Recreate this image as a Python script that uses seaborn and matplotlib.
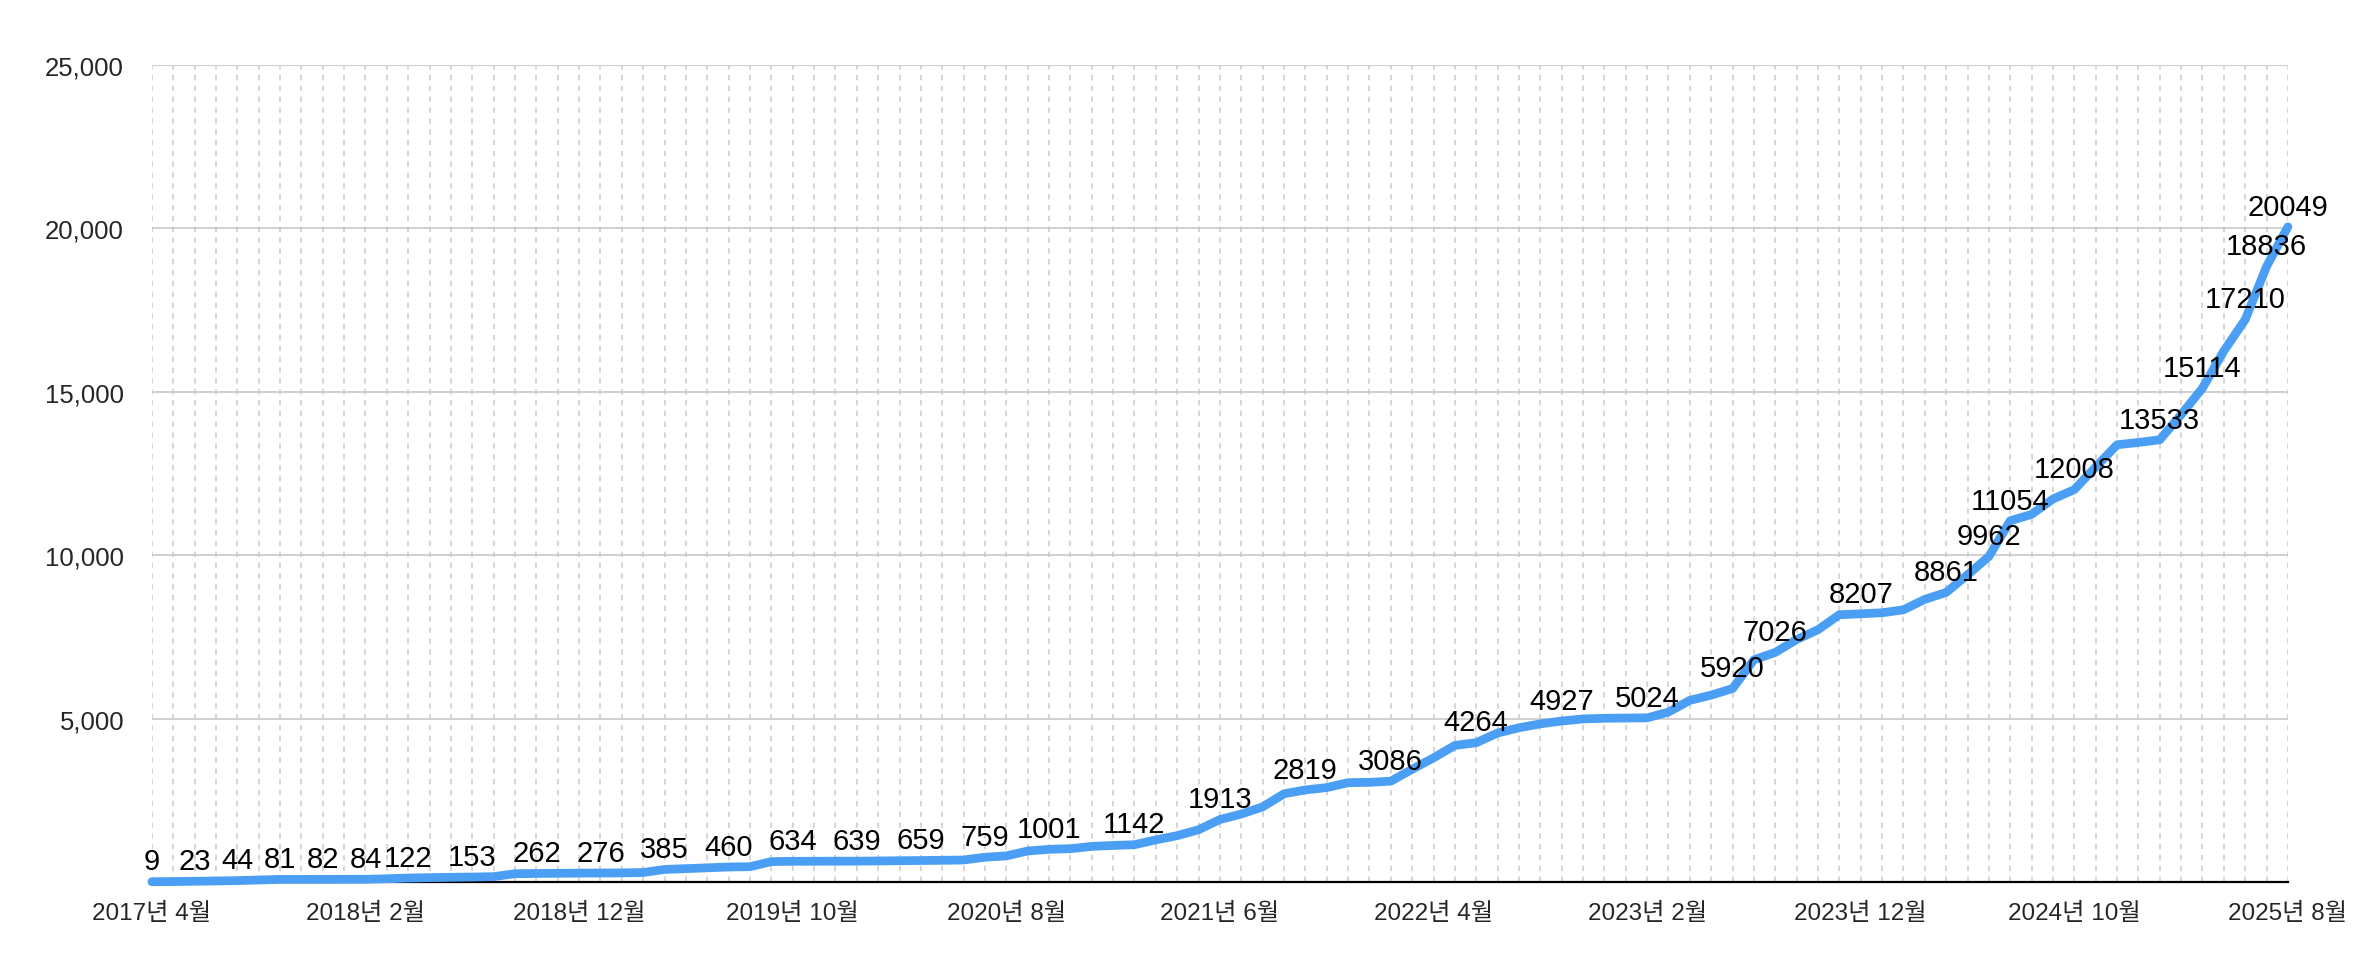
import matplotlib
matplotlib.use("Agg")
import matplotlib.pyplot as plt
import pandas as pd
import seaborn as sns


# monthly totals, 2017-04 .. 2025-08 (101 months)
VALUES = [
    9, 15, 23, 33, 44, 62, 81, 81, 82, 83,
    84, 100, 122, 135, 145, 153, 165, 255, 262, 268,
    272, 276, 280, 292, 385, 410, 435, 460, 470, 625,
    634, 636, 638, 639, 645, 652, 659, 665, 675, 759,
    800, 950, 1001, 1020, 1090, 1120, 1142, 1290, 1420, 1600,
    1913, 2080, 2300, 2700, 2819, 2890, 3040, 3050, 3086, 3450,
    3800, 4180, 4264, 4560, 4720, 4840, 4927, 4990, 5010, 5018,
    5024, 5200, 5560, 5720, 5920, 6800, 7026, 7420, 7720, 8180,
    8207, 8240, 8330, 8650, 8861, 9400, 9962, 11054, 11250, 11720,
    12008, 12700, 13380, 13450, 13533, 14300, 15114, 16250, 17210, 18836,
    20049,
]
MONTHS = list(range(len(VALUES)))

# months that carry a value label
LABELED_MONTHS = [
    0, 2, 4, 6, 8, 10, 12, 15, 18, 21, 24, 27, 30, 33, 36, 39, 42,
    46, 50, 54, 58, 62, 66, 70, 74, 76, 80, 84, 86, 87, 90, 94, 96, 98, 99, 100,
]

TICK_LABELS = [
    "2017년 4월", "2018년 2월", "2018년 12월", "2019년 10월", "2020년 8월",
    "2021년 6월", "2022년 4월", "2023년 2월", "2023년 12월", "2024년 10월",
    "2025년 8월",
]
Y_TICKS = [5000, 10000, 15000, 20000, 25000]

LINE_COLOR = "#4a9ff5"


def main():
    sns.set_style("white")
    plt.rcParams["font.family"] = ["Liberation Sans", "Noto Sans CJK KR", "DejaVu Sans"]

    df = pd.DataFrame({"month": MONTHS, "count": VALUES})

    fig = plt.figure(figsize=(23.66, 9.78), dpi=100)
    ax = fig.add_axes([0.0642, 0.0971, 0.9028, 0.8354])

    sns.lineplot(data=df, x="month", y="count", ax=ax, color=LINE_COLOR,
                 linewidth=6.3, zorder=5, clip_on=False)

    for m in LABELED_MONTHS:
        ax.annotate(str(VALUES[m]), (m, VALUES[m]), xytext=(0, 4.5),
                    textcoords="offset points", ha="center", va="bottom",
                    fontsize=21, color="black", zorder=6)

    ax.set_xlim(0, 100)
    ax.set_ylim(0, 25000)

    ax.set_xticks(MONTHS)
    ax.set_xticklabels([TICK_LABELS[m // 10] if m % 10 == 0 else "" for m in MONTHS],
                       fontsize=17.5)
    ax.set_yticks(Y_TICKS)
    ax.set_yticklabels([f"{v:,}" for v in Y_TICKS], fontsize=18.5)

    ax.tick_params(axis="x", direction="in", length=5, width=1.3, color="black",
                   pad=14)
    ax.tick_params(axis="y", length=0, pad=20)

    ax.grid(axis="x", linestyle=(0, (3, 3)), color="#d2d2d2", linewidth=1.3)
    ax.grid(axis="y", linestyle="-", color="#c8c8c8", linewidth=1.2)
    ax.set_axisbelow(True)

    for side in ["left", "right", "top"]:
        ax.spines[side].set_visible(False)
    ax.spines["bottom"].set_color("black")
    ax.spines["bottom"].set_linewidth(1.6)

    ax.set_xlabel("")
    ax.set_ylabel("")

    fig.savefig("out.png", dpi=100)


if __name__ == "__main__":
    main()
